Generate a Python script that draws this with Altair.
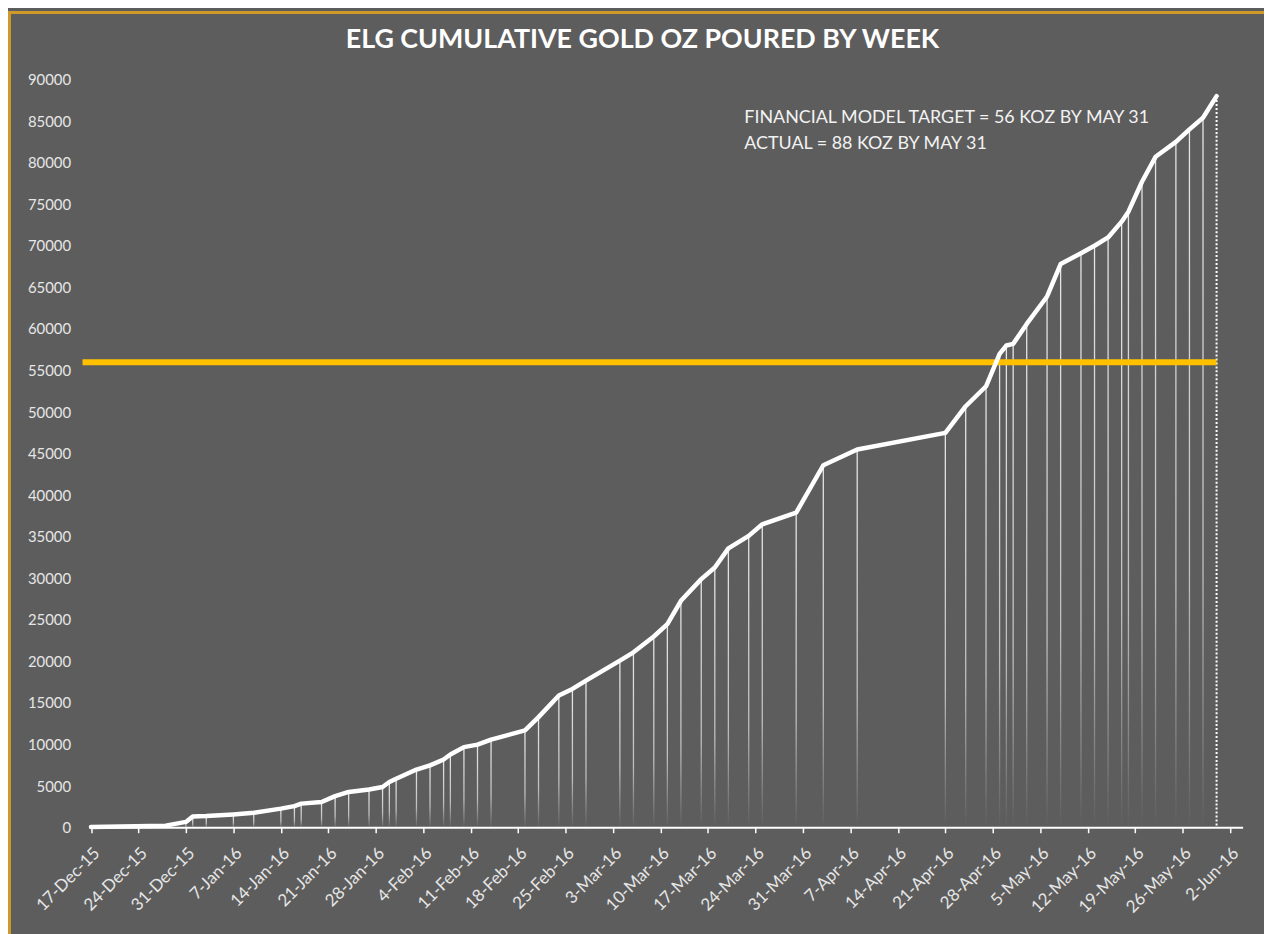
import altair as alt
import pandas as pd

# ---- data ----
dates = [
    "2015-12-17", "2015-12-28", "2015-12-31", "2016-01-01", "2016-01-03",
    "2016-01-07", "2016-01-10", "2016-01-14", "2016-01-16", "2016-01-17",
    "2016-01-20", "2016-01-22", "2016-01-24", "2016-01-27", "2016-01-29",
    "2016-01-30", "2016-01-31", "2016-02-03", "2016-02-05", "2016-02-07",
    "2016-02-08", "2016-02-10", "2016-02-12", "2016-02-14", "2016-02-19",
    "2016-02-21", "2016-02-24", "2016-02-26", "2016-02-28", "2016-03-04",
    "2016-03-06", "2016-03-09", "2016-03-11", "2016-03-13", "2016-03-16",
    "2016-03-18", "2016-03-20", "2016-03-23", "2016-03-25", "2016-03-30",
    "2016-04-03", "2016-04-08", "2016-04-21", "2016-04-24", "2016-04-27",
    "2016-04-29", "2016-04-30", "2016-05-01", "2016-05-03", "2016-05-06",
    "2016-05-08", "2016-05-11", "2016-05-13", "2016-05-15", "2016-05-17",
    "2016-05-18", "2016-05-20", "2016-05-22", "2016-05-25", "2016-05-27",
    "2016-05-29", "2016-05-31",
]
ounces = [
    100, 250, 700, 1350, 1400,
    1600, 1800, 2300, 2600, 2900,
    3100, 3800, 4300, 4600, 4900,
    5500, 5900, 7000, 7500, 8200,
    8800, 9700, 10000, 10600, 11700,
    13300, 15900, 16700, 17700, 20100,
    21100, 23000, 24500, 27300, 29900,
    31300, 33600, 35100, 36500, 37900,
    43600, 45500, 47500, 50700, 53100,
    57000, 58000, 58200, 60600, 63900,
    67800, 69100, 70000, 71000, 72900,
    74100, 77700, 80700, 82500, 84000,
    85400, 88000,
]
tick_dates = [
    "2015-12-17", "2015-12-24", "2015-12-31", "2016-01-07", "2016-01-14",
    "2016-01-21", "2016-01-28", "2016-02-04", "2016-02-11", "2016-02-18",
    "2016-02-25", "2016-03-03", "2016-03-10", "2016-03-17", "2016-03-24",
    "2016-03-31", "2016-04-07", "2016-04-14", "2016-04-21", "2016-04-28",
    "2016-05-05", "2016-05-12", "2016-05-19", "2016-05-26", "2016-06-02",
]
y_ticks = list(range(0, 90001, 5000))
x_domain = ["2015-12-15T18:00:00Z", "2016-06-03T22:00:00Z"]
target_value = 56000
target_end = "2016-05-31"
title_text = "ELG CUMULATIVE GOLD OZ POURED BY WEEK"
notes = ["FINANCIAL MODEL TARGET = 56 KOZ BY MAY 31", "ACTUAL = 88 KOZ BY MAY 31"]

# ---- styles ----
BG = "#5d5d5d"
GOLD = "#ffc000"
BORDER = "#d09a2b"
LABEL = "#e6e6e6"
FONT = "Lato"
W, H = 1178, 753


def to_ms(s):
    return int(pd.Timestamp(s).value // 10**6)


df = pd.DataFrame({"date": dates, "oz": ounces})
df_drop = df.iloc[:-1]
df_last = df.iloc[[-1]]
target_df = pd.DataFrame({"start": [x_domain[0]], "end": [target_end], "value": [target_value]})
axis_df = pd.DataFrame({"start": [tick_dates[0]], "end": [x_domain[1]]})
one = pd.DataFrame({"k": [0]})

xscale = alt.Scale(type="utc", domain=[to_ms(x_domain[0]), to_ms(x_domain[1])])
yscale = alt.Scale(domain=[0, 90000], nice=False)

x_axis = alt.Axis(
    values=[to_ms(d) for d in tick_dates], format="%-d-%b-%y", labelAngle=-45,
    domain=False, grid=False, ticks=True, tickColor="white", tickSize=5, tickWidth=1.5,
    labelColor=LABEL, labelFont=FONT, labelFontSize=17, labelPadding=12,
    labelOverlap=False, labelFlush=False, title=None,
)
y_axis = alt.Axis(
    values=y_ticks, format="d", domain=False, ticks=False, grid=False,
    labelColor=LABEL, labelFont=FONT, labelFontSize=15, labelPadding=7, title=None,
)

X = alt.X("date:T", scale=xscale, axis=x_axis)
Y = alt.Y("oz:Q", scale=yscale, axis=y_axis)

fade = alt.LinearGradient(
    gradient="linear", x1=0, x2=0, y1=0, y2=1,
    stops=[
        alt.GradientStop(color="rgba(255,255,255,0.85)", offset=0),
        alt.GradientStop(color="rgba(255,255,255,0.6)", offset=0.65),
        alt.GradientStop(color="rgba(255,255,255,0.0)", offset=1),
    ],
)

drops = alt.Chart(df_drop).mark_bar(size=1.3, color=fade).encode(x=X, y=Y)

last_drop = alt.Chart(df_last).mark_rule(color="white", strokeWidth=2, strokeDash=[2, 2]).encode(
    x=X, y=Y, y2=alt.datum(0)
)

axis_line = alt.Chart(axis_df).mark_rule(color="white", strokeWidth=2).encode(
    x=alt.X("start:T", scale=xscale, axis=x_axis), x2="end:T", y=alt.datum(0, scale=yscale)
)

target = alt.Chart(target_df).mark_rule(color=GOLD, strokeWidth=6).encode(
    x=alt.X("start:T", scale=xscale, axis=x_axis), x2="end:T", y=alt.Y("value:Q", scale=yscale, axis=y_axis)
)

line = alt.Chart(df).mark_line(color="white", strokeWidth=4.5, strokeJoin="round", strokeCap="round").encode(
    x=X, y=Y
)

note = alt.Chart(one).mark_text(
    text=notes, align="left", baseline="middle", font=FONT, fontSize=18,
    color="#f2f2f2", lineHeight=26,
).encode(x=alt.value(671), y=alt.value(39))

title = alt.Chart(one).mark_text(
    text=title_text, align="center", baseline="middle", font=FONT, fontSize=27,
    fontWeight="bold", color="white",
).encode(x=alt.value(568.5), y=alt.value(-40))

border = alt.Chart(one).mark_rect(
    fillOpacity=0, stroke=BORDER, strokeWidth=3
).encode(x=alt.value(-68.5), x2=alt.value(W + 60), y=alt.value(-67.5), y2=alt.value(H + 160))

chart = alt.layer(drops, last_drop, target, axis_line, line, note, title, border).properties(
    width=W, height=H,
    padding={"left": 70, "top": 69, "right": 16, "bottom": 104},
    autosize=alt.AutoSizeParams(type="none"),
    background=BG,
).configure_view(stroke=None, fill=BG)

chart.save("out.html", embed_options={"renderer": "svg", "actions": False})
